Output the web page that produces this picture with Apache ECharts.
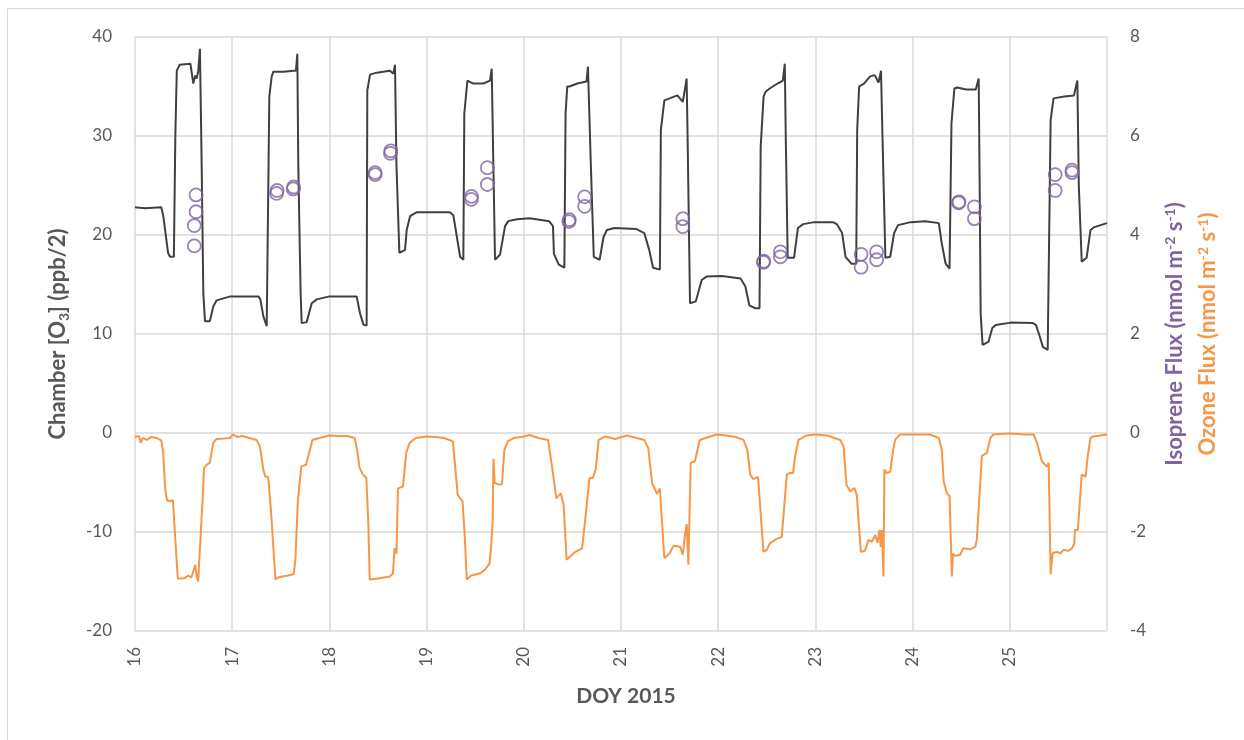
<!DOCTYPE html>
<html>
<head>
<meta charset="utf-8">
<script src="https://cdn.jsdelivr.net/npm/echarts@6/dist/echarts.min.js"></script>
<style>html,body{margin:0;padding:0;background:#fff;}#c{width:1244px;height:740px;}</style>
</head>
<body>
<div id="c"></div>
<script>
// Chamber [O3] (ppb/2), left axis
const o3Day = [16.00,16.10,16.27,16.29,16.31,16.34,16.36,16.40,16.415,16.43,16.46,16.57,16.59,16.60,16.62,16.635,16.65,16.668,16.676,16.686,16.703,16.72,16.77,16.806,16.84,16.98,17.27,17.29,17.32,17.355,17.375,17.382,17.406,17.423,17.53,17.63,17.656,17.67,17.68,17.704,17.715,17.766,17.818,17.87,18.0,18.28,18.315,18.35,18.383,18.39,18.418,18.486,18.623,18.658,18.675,18.69,18.72,18.778,18.795,18.83,18.9,19.24,19.275,19.31,19.345,19.378,19.388,19.42,19.48,19.584,19.652,19.67,19.687,19.704,19.755,19.807,19.84,19.93,20.06,20.26,20.30,20.31,20.36,20.417,20.43,20.447,20.47,20.55,20.645,20.66,20.676,20.69,20.72,20.78,20.82,20.855,20.93,21.16,21.24,21.29,21.33,21.40,21.41,21.446,21.50,21.58,21.60,21.636,21.675,21.685,21.71,21.77,21.83,21.88,22.04,22.23,22.28,22.32,22.38,22.425,22.437,22.467,22.49,22.53,22.61,22.665,22.685,22.695,22.715,22.78,22.82,22.875,22.99,23.18,23.22,23.275,23.31,23.37,23.42,23.43,23.45,23.50,23.56,23.61,23.65,23.675,23.69,23.72,23.77,23.81,23.85,23.98,24.13,24.27,24.30,24.34,24.38,24.40,24.43,24.46,24.55,24.65,24.666,24.68,24.69,24.70,24.72,24.78,24.82,24.856,25.01,25.24,25.27,25.31,25.34,25.39,25.42,25.45,25.56,25.66,25.676,25.695,25.71,25.74,25.79,25.83,25.87,26.0];
const o3Val = [22.8,22.7,22.8,22.0,20.5,18.2,17.8,17.8,30.0,36.6,37.2,37.3,37.1,35.3,36.1,35.8,36.5,38.8,38.9,27.0,14.1,11.3,11.3,12.8,13.4,13.8,13.8,13.5,11.8,10.8,10.6,34.0,36.0,36.5,36.5,36.6,36.6,38.3,27.0,14.1,11.1,11.2,13.1,13.5,13.8,13.8,12.1,10.95,10.85,34.6,36.2,36.4,36.6,36.3,37.2,27.0,18.2,18.5,20.5,21.9,22.3,22.3,22.0,19.9,17.8,17.5,32.3,35.6,35.3,35.3,35.6,36.8,27.0,17.5,18.0,20.9,21.4,21.6,21.7,21.4,20.9,18.1,17.0,16.7,32.3,35.0,35.0,35.3,35.5,37.0,37.05,27.0,17.8,17.5,19.8,20.5,20.7,20.6,20.2,18.5,16.7,16.5,30.6,33.6,33.8,34.1,33.9,33.45,35.8,30.0,13.1,13.3,15.45,15.8,15.85,15.6,14.8,12.9,12.6,12.6,28.9,34.0,34.5,34.8,35.3,35.6,37.3,30.0,17.7,17.7,20.7,21.1,21.3,21.3,21.1,20.2,17.8,17.1,17.1,30.6,35.0,35.3,36.0,36.15,35.4,36.6,30.0,17.7,17.8,20.2,21.0,21.3,21.4,21.2,19.15,17.1,16.6,31.3,34.8,34.9,34.7,34.7,35.3,35.8,25.0,12.1,8.9,9.2,10.6,10.9,11.15,11.1,10.9,9.7,8.7,8.4,31.6,33.8,34.0,34.1,34.8,35.6,25.0,17.3,17.7,20.5,20.8,21.2];

// Ozone flux (nmol m-2 s-1), right axis
const fluxDay = [16.00,16.02,16.04,16.06,16.08,16.12,16.17,16.22,16.27,16.29,16.31,16.33,16.36,16.39,16.41,16.44,16.50,16.55,16.58,16.62,16.635,16.65,16.665,16.695,16.71,16.74,16.77,16.805,16.84,16.92,16.976,17.01,17.05,17.10,17.18,17.25,17.286,17.32,17.34,17.37,17.40,17.445,17.47,17.52,17.575,17.633,17.65,17.675,17.71,17.76,17.80,17.825,17.90,18.0,18.10,18.18,18.26,18.29,18.31,18.345,18.38,18.40,18.414,18.50,18.62,18.654,18.67,18.69,18.705,18.757,18.79,18.825,18.89,19.0,19.10,19.18,19.27,19.32,19.37,19.39,19.414,19.46,19.545,19.596,19.647,19.664,19.68,19.688,19.70,19.75,19.775,19.80,19.835,19.90,20.0,20.06,20.15,20.25,20.30,20.335,20.38,20.41,20.44,20.46,20.53,20.60,20.61,20.64,20.675,20.71,20.74,20.77,20.84,20.94,21.06,21.2,21.24,21.28,21.32,21.37,21.40,21.446,21.50,21.54,21.61,21.635,21.66,21.676,21.693,21.717,21.76,21.78,21.81,21.90,21.985,22.08,22.18,22.26,22.30,22.33,22.36,22.41,22.465,22.5,22.53,22.6,22.654,22.706,22.733,22.75,22.77,22.79,22.826,22.91,23.0,23.12,23.255,23.29,23.32,23.36,23.40,23.426,23.467,23.51,23.546,23.58,23.615,23.64,23.66,23.672,23.684,23.70,23.71,23.735,23.77,23.79,23.80,23.82,23.87,24.01,24.18,24.27,24.30,24.32,24.353,24.38,24.404,24.415,24.44,24.49,24.52,24.59,24.645,24.66,24.713,24.765,24.78,24.80,24.83,25.0,25.17,25.245,25.28,25.33,25.38,25.40,25.42,25.44,25.485,25.52,25.553,25.60,25.64,25.664,25.67,25.70,25.74,25.76,25.78,25.80,25.83,25.86,25.93,26.0];
const fluxVal = [-0.08,-0.12,-0.06,-0.2,-0.1,-0.14,-0.08,-0.1,-0.15,-0.4,-1.12,-1.36,-1.38,-1.36,-2.0,-2.94,-2.94,-2.88,-2.92,-2.66,-2.9,-3.0,-2.44,-1.36,-0.71,-0.64,-0.6,-0.2,-0.12,-0.11,-0.1,-0.03,-0.08,-0.06,-0.1,-0.14,-0.27,-0.74,-0.88,-0.89,-1.6,-2.96,-2.92,-2.9,-2.88,-2.85,-2.56,-1.4,-0.68,-0.64,-0.34,-0.14,-0.1,-0.05,-0.06,-0.06,-0.1,-0.4,-0.7,-0.84,-0.91,-1.8,-2.96,-2.94,-2.9,-2.84,-2.33,-2.44,-1.12,-1.08,-0.4,-0.2,-0.1,-0.07,-0.08,-0.1,-0.17,-1.25,-1.38,-2.0,-2.96,-2.88,-2.84,-2.77,-2.64,-2.3,-1.76,-0.52,-1.01,-1.04,-1.04,-0.34,-0.17,-0.1,-0.07,-0.04,-0.1,-0.14,-0.81,-1.32,-1.22,-1.45,-2.56,-2.56,-2.4,-2.33,-2.33,-1.6,-0.91,-0.91,-0.74,-0.14,-0.07,-0.12,-0.05,-0.12,-0.14,-0.3,-1.01,-1.23,-1.12,-2.53,-2.43,-2.28,-2.3,-2.46,-2.04,-1.84,-2.66,-0.6,-0.57,-0.54,-0.14,-0.08,-0.03,-0.05,-0.08,-0.14,-0.34,-0.84,-0.93,-0.89,-2.4,-2.36,-2.23,-2.14,-2.1,-0.84,-0.81,-0.84,-0.81,-0.48,-0.14,-0.05,-0.03,-0.05,-0.14,-0.27,-1.05,-1.18,-1.11,-1.25,-2.4,-2.38,-2.16,-2.2,-2.06,-2.22,-1.96,-2.3,-1.96,-2.9,-0.74,-0.81,-0.78,-0.81,-0.34,-0.14,-0.03,-0.03,-0.03,-0.1,-0.34,-0.98,-1.22,-1.27,-2.9,-2.44,-2.48,-2.46,-2.33,-2.35,-2.3,-2.16,-0.46,-0.4,-0.4,-0.1,-0.03,-0.01,-0.03,-0.03,-0.2,-0.57,-0.68,-0.6,-2.85,-2.43,-2.4,-2.43,-2.36,-2.38,-2.33,-2.23,-1.96,-1.96,-0.84,-0.81,-0.88,-0.5,-0.1,-0.07,-0.05,-0.03];

// Isoprene flux (nmol m-2 s-1), right axis
const isoDay = [16.628,16.628,16.61,16.61,17.457,17.462,17.628,17.632,18.47,18.47,18.628,18.632,19.46,19.462,19.625,19.625,20.464,20.468,20.626,20.626,21.636,21.636,22.465,22.469,22.64,22.64,23.47,23.47,23.63,23.63,24.473,24.477,24.636,24.636,25.467,25.467,25.64,25.64];
const isoVal = [4.81,4.47,4.19,3.78,4.84,4.90,4.93,4.97,5.22,5.26,5.65,5.70,4.72,4.78,5.02,5.36,4.27,4.31,4.77,4.58,4.33,4.17,3.45,3.47,3.66,3.56,3.61,3.35,3.66,3.50,4.65,4.67,4.57,4.33,5.22,4.90,5.31,5.26];

const leftTicks = [-20, 40, 10];   // min, max, interval
const rightTicks = [-4, 8, 2];
const xTicks = [16, 26, 1];

const zip = (a, b) => a.map((v, i) => [v, b[i]]);
const FONT = 'Lato, "Open Sans", sans-serif';
const GREY = '#595959';
const PURPLE = '#8064A2';
const ORANGE = '#F79646';
const TF = 22;   // title font size
const SF = 14;   // super/subscript font size

function titleText(x, text, color, rich) {
  return {
    type: 'text', x: x, y: 334, rotation: Math.PI / 2, silent: true, z: 10,
    style: {
      text: text, fill: color, fontSize: TF, fontWeight: 'bold', fontFamily: FONT,
      align: 'center', verticalAlign: 'middle', rich: rich
    }
  };
}
const supRich = c => ({
  n: {fill: c, fontSize: TF, fontWeight: 'bold', fontFamily: FONT, lineHeight: 27},
  s: {fill: c, fontSize: SF, fontWeight: 'bold', fontFamily: FONT, lineHeight: 27, verticalAlign: 'top', padding: [2, 0, 0, 0]}
});
const subRich = c => ({
  n: {fill: c, fontSize: TF, fontWeight: 'bold', fontFamily: FONT, lineHeight: 27},
  s: {fill: c, fontSize: SF, fontWeight: 'bold', fontFamily: FONT, lineHeight: 27, verticalAlign: 'bottom'}
});

const chart = echarts.init(document.getElementById('c'), null, {renderer: 'canvas'});
chart.setOption({
  animation: false,
  backgroundColor: '#fff',
  textStyle: {fontFamily: FONT},
  grid: {left: 135, right: 137, top: 37, bottom: 109, containLabel: false},
  graphic: [{
    type: 'rect', silent: true, z: -10,
    shape: {x: 7.5, y: 8.5, width: 1400, height: 900},
    style: {fill: 'none', stroke: '#d9d9d9', lineWidth: 1}
  },
  titleText(58, '{n|Chamber [O}{s|3}{n|] (ppb/2)}', GREY, subRich(GREY)),
  titleText(1175, '{n|Isoprene Flux (nmol m}{s|-2}{n| s}{s|-1}{n|)}', PURPLE, supRich(PURPLE)),
  titleText(1208, '{n|Ozone Flux (nmol m}{s|-2}{n| s}{s|-1}{n|)}', ORANGE, supRich(ORANGE))
  ],
  xAxis: {
    type: 'value', min: xTicks[0], max: xTicks[1], interval: xTicks[2],
    name: 'DOY 2015', nameLocation: 'middle', nameGap: 55,
    nameTextStyle: {fontSize: 21, fontWeight: 'bold', color: GREY, fontFamily: FONT, padding: [0, 0, 0, 10]},
    axisLine: {show: false}, axisTick: {show: false},
    axisLabel: {rotate: 90, margin: 16, fontSize: 17, color: GREY, fontFamily: FONT,
      formatter: v => (v >= 26 ? '' : String(v))},
    splitLine: {show: true, lineStyle: {color: '#d9d9d9', width: 1.5}}
  },
  yAxis: [{
    type: 'value', min: leftTicks[0], max: leftTicks[1], interval: leftTicks[2],
    axisLine: {show: false}, axisTick: {show: false},
    axisLabel: {margin: 23, fontSize: 17, color: GREY, fontFamily: FONT},
    splitLine: {show: true, lineStyle: {color: '#d9d9d9', width: 1.5}}
  }, {
    type: 'value', min: rightTicks[0], max: rightTicks[1], interval: rightTicks[2],
    position: 'right',
    axisLine: {show: false}, axisTick: {show: false},
    axisLabel: {margin: 23, fontSize: 17, color: GREY, fontFamily: FONT},
    splitLine: {show: false}
  }],
  series: [{
    name: 'Chamber O3', type: 'line', yAxisIndex: 0, data: zip(o3Day, o3Val),
    showSymbol: false, symbol: 'none', lineStyle: {color: '#404040', width: 2}, z: 3
  }, {
    name: 'Ozone Flux', type: 'line', yAxisIndex: 1, data: zip(fluxDay, fluxVal),
    showSymbol: false, symbol: 'none', lineStyle: {color: ORANGE, width: 2}, z: 3
  }, {
    name: 'Isoprene Flux', type: 'scatter', yAxisIndex: 1, data: zip(isoDay, isoVal),
    symbol: 'circle', symbolSize: 13,
    itemStyle: {color: 'rgba(0,0,0,0)', borderColor: PURPLE, borderWidth: 1.8}, z: 4
  }]
});
</script>
</body>
</html>
